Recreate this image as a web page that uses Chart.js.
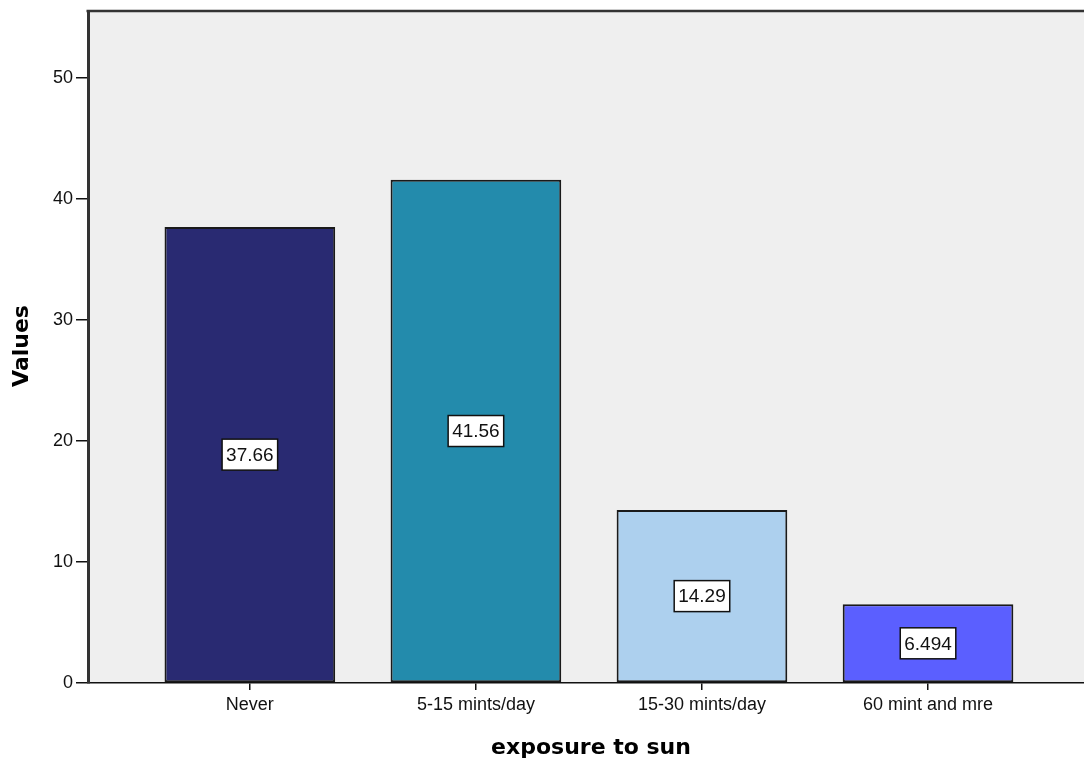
<!DOCTYPE html>
<html>
<head>
<meta charset="utf-8">
<script src="https://cdn.jsdelivr.net/npm/chart.js@4/dist/chart.umd.min.js"></script>
<style>
html,body{margin:0;padding:0;background:#fff;}
#wrap{width:1084px;height:762px;position:relative;}
</style>
</head>
<body>
<div id="wrap"><canvas id="c" width="1084" height="762"></canvas></div>
<script>
const categories = ["Never", "5-15 mints/day", "15-30 mints/day", "60 mint and mre"];
const values = [37.66, 41.56, 14.29, 6.494];
const valueLabels = ["37.66", "41.56", "14.29", "6.494"];
const barColors = ["#292A72", "#238BAC", "#ADD0EE", "#5B5FFF"];
const yTicks = [0, 10, 20, 30, 40, 50];
const xTitle = "exposure to sun";
const yTitle = "Values";

const points = categories.map((c, i) => ({x: i, y: values[i]}));

const bgPlugin = {
  id: 'bg',
  beforeDraw(chart) {
    const {ctx, chartArea: a} = chart;
    ctx.save();
    ctx.fillStyle = '#EFEFEF';
    ctx.fillRect(a.left, a.top, chart.width - a.left, a.bottom - a.top);
    ctx.restore();
  },
  afterDraw(chart) {
    const {ctx, chartArea: a} = chart;
    ctx.save();
    ctx.strokeStyle = '#333';
    ctx.lineWidth = 2.5;
    ctx.beginPath();
    ctx.moveTo(a.left - 1.5, a.top);
    ctx.lineTo(chart.width, a.top);
    ctx.stroke();
    ctx.fillStyle = '#000';
    ctx.font = 'bold 22px "DejaVu Sans"';
    ctx.textAlign = 'center';
    ctx.textBaseline = 'middle';
    ctx.fillText(xTitle, 591, 748);
    ctx.translate(22, 346);
    ctx.rotate(-Math.PI / 2);
    ctx.fillText(yTitle, 0, 0);
    ctx.restore();
  }
};

const labelPlugin = {
  id: 'vlabels',
  afterDatasetsDraw(chart) {
    const {ctx} = chart;
    const meta = chart.getDatasetMeta(0);
    ctx.save();
    ctx.font = '19px "Liberation Sans", Arial, sans-serif';
    ctx.textAlign = 'center';
    ctx.textBaseline = 'middle';
    meta.data.forEach((bar, i) => {
      const cx = bar.x;
      const cy = (bar.y + bar.base) / 2;
      const t = valueLabels[i];
      const w = ctx.measureText(t).width + 8;
      const h = 31;
      ctx.fillStyle = '#fff';
      ctx.fillRect(cx - w / 2, cy - h / 2, w, h);
      ctx.strokeStyle = '#111';
      ctx.lineWidth = 1.5;
      ctx.strokeRect(cx - w / 2, cy - h / 2, w, h);
      ctx.fillStyle = '#111';
      ctx.fillText(t, cx, cy + 1);
    });
    ctx.restore();
  }
};

new Chart(document.getElementById('c'), {
  type: 'bar',
  data: {
    datasets: [{
      data: points,
      backgroundColor: barColors,
      borderColor: '#1a1a1a',
      borderWidth: 2,
      borderSkipped: false,
      categoryPercentage: 0.755,
      barPercentage: 1.0
    }]
  },
  options: {
    responsive: false,
    animation: false,
    events: [],
    layout: {padding: {top: 11, right: 0, left: 0, bottom: 0}},
    plugins: {legend: {display: false}, tooltip: {enabled: false}, title: {display: false}},
    scales: {
      x: {
        type: 'linear',
        offset: false,
        min: -0.716,
        max: 3.69,
        afterBuildTicks(scale) { scale.ticks = categories.map((c, i) => ({value: i})); },
        afterFit(scale) { scale.height = 79; scale.paddingLeft = 0; scale.paddingRight = 0; },
        ticks: {
          autoSkip: false,
          maxRotation: 0,
          padding: 4,
          color: '#111',
          font: {family: '"Liberation Sans", Arial, sans-serif', size: 18},
          callback(v) { return categories[Math.round(v)]; }
        },
        grid: {display: true, offset: false, drawOnChartArea: false, drawTicks: true, tickLength: 7, color: '#111', lineWidth: 1.5},
        border: {display: true, color: '#111', width: 1.5}
      },
      y: {
        min: 0,
        max: 55.5,
        afterBuildTicks(scale) { scale.ticks = yTicks.map(v => ({value: v})); },
        afterFit(scale) { scale.width = 88; scale.paddingTop = 0; scale.paddingBottom = 0; },
        ticks: {
          padding: 3,
          color: '#111',
          font: {family: '"Liberation Sans", Arial, sans-serif', size: 18}
        },
        grid: {display: true, drawOnChartArea: false, drawTicks: true, tickLength: 12, color: '#111', lineWidth: 1.5},
        border: {display: true, color: '#333', width: 3}
      }
    }
  },
  plugins: [bgPlugin, labelPlugin]
});
</script>
</body>
</html>
